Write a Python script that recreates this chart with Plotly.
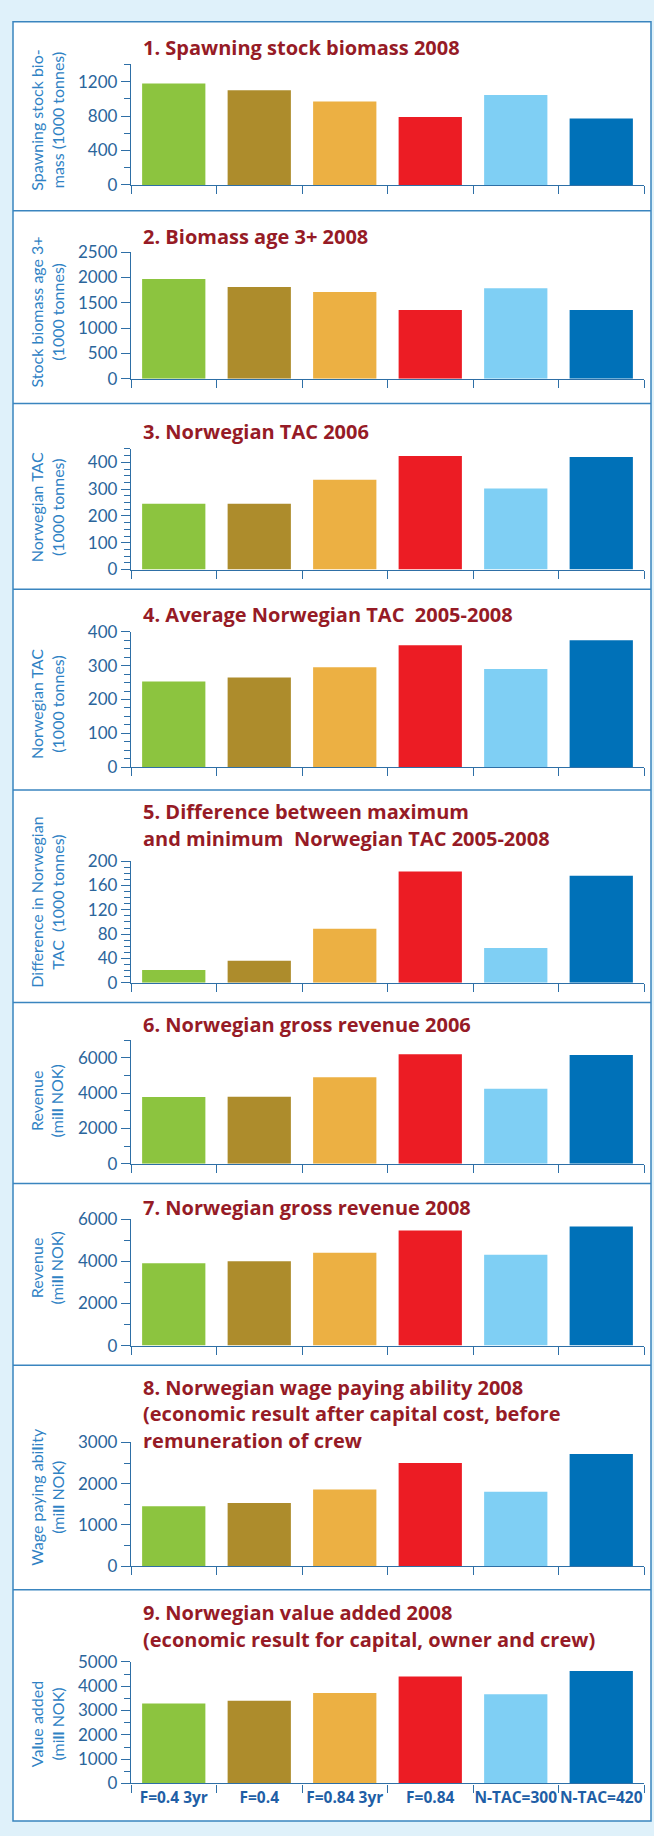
import plotly.graph_objects as go

W, H = 654, 1836

# ---------------- data ----------------
categories = ["F=0.4 3yr", "F=0.4", "F=0.84 3yr", "F=0.84", "N-TAC=300", "N-TAC=420"]
bar_colors = ["#8cc43f", "#ad8c2c", "#ecb043", "#ec1c24", "#7fcff4", "#0071b8"]

ssb_2008 = [1177, 1100, 968, 790, 1044, 771]
biomass3_2008 = [1970, 1815, 1712, 1357, 1789, 1357]
tac_2006 = [245, 245, 335, 424, 302, 420]
avg_tac_0508 = [253, 265, 295, 360, 290, 375]
diff_tac_0508 = [21, 36, 89, 183, 57, 176]
revenue_2006 = [3780, 3790, 4900, 6200, 4250, 6150]
revenue_2008 = [3900, 4000, 4400, 5450, 4300, 5650]
wage_ability_2008 = [1450, 1530, 1860, 2500, 1800, 2720]
value_added_2008 = [3290, 3400, 3720, 4400, 3670, 4630]

titles = [
    "1. Spawning stock biomass 2008",
    "2. Biomass age 3+ 2008",
    "3. Norwegian TAC 2006",
    "4. Average Norwegian TAC  2005-2008",
    "5. Difference between maximum<br>and minimum  Norwegian TAC 2005-2008",
    "6. Norwegian gross revenue 2006",
    "7. Norwegian gross revenue 2008",
    "8. Norwegian wage paying ability 2008<br>(economic result after capital cost, before<br>remuneration of crew",
    "9. Norwegian value added 2008<br>(economic result for capital, owner and crew)",
]
y_titles = [
    "Spawning stock bio-<br>mass (1000 tonnes)",
    "Stock biomass age 3+<br>(1000 tonnes)",
    "Norwegian TAC<br>(1000 tonnes)",
    "Norwegian TAC<br>(1000 tonnes)",
    "Difference in Norwegian<br>TAC  (1000 tonnes)",
    "Revenue<br>(mi<b>ll</b> NOK)",
    "Revenue<br>(mi<b>ll</b> NOK)",
    "Wage paying abi<b>l</b>ity<br>(mi<b>ll</b> NOK)",
    "Va<b>l</b>ue added<br>(mi<b>ll</b> NOK)",
]
series = [ssb_2008, biomass3_2008, tac_2006, avg_tac_0508, diff_tac_0508,
          revenue_2006, revenue_2008, wage_ability_2008, value_added_2008]
y_max = [1400, 2500, 450, 400, 200, 7000, 6000, 3000, 5000]
y_dtick = [400, 500, 100, 100, 40, 2000, 2000, 1000, 1000]
y_minor = [200, None, 25, 25, 10, 1000, 1000, 500, 500]

# ---------------- layout geometry (pixels) ----------------
zero_px = [176, 372, 565, 765, 983, 1166, 1350, 1573, 1793]
top_px = [54, 244, 443, 628, 860, 1041, 1222, 1448, 1670]
title_lines_px = [[37], [228], [425], [610], [810, 837], [1025], [1210],
                  [1392, 1419, 1446], [1620, 1647]]
ytitle_px = [111, 305, 502, 701, 902, 1103, 1272, 1503, 1733]
borders_px = [202, 397, 585, 788, 1003, 1186, 1370, 1597]
X0, X1 = 131, 644
LEFT, RIGHT, TOP, BOTTOM = 13, 651, 11, 1831

def px(x):
    return x / W

def py(y):
    return 1 - y / H

TITLE_COLOR = "#961b26"
AXIS_COLOR = "#2e6fa6"
TICK_COLOR = "#2b659b"
YTITLE_COLOR = "#2f82c4"
BORDER_COLOR = "#3a85bf"
FONT = "Lato"
TFONT = "Open Sans"

fig = go.Figure()
layout = dict(
    width=W, height=H,
    margin=dict(l=0, r=0, t=0, b=0),
    paper_bgcolor="#dff1fa",
    plot_bgcolor="white",
    showlegend=False,
    bargap=0.26,
    font=dict(family=FONT, color=TICK_COLOR),
)

shapes = [dict(type="rect", xref="paper", yref="paper",
               x0=px(LEFT), x1=px(RIGHT), y0=py(BOTTOM), y1=py(TOP),
               fillcolor="white", line=dict(color=BORDER_COLOR, width=1.5), layer="below")]
for b in borders_px:
    shapes.append(dict(type="line", xref="paper", yref="paper",
                       x0=px(LEFT), x1=px(RIGHT), y0=py(b), y1=py(b),
                       line=dict(color=BORDER_COLOR, width=1.5), layer="below"))

annotations = []
for i in range(9):
    n = "" if i == 0 else str(i + 1)
    fig.add_trace(go.Bar(
        x=categories, y=series[i], marker=dict(color=bar_colors, line=dict(width=0)),
        xaxis="x" + n, yaxis="y" + n, hoverinfo="x+y",
    ))
    last = (i == 8)
    layout["xaxis" + n] = dict(
        domain=[px(X0), px(X1)], anchor="y" + n, type="category",
        range=[-0.5, 5.5], showline=True, linecolor=AXIS_COLOR, linewidth=1.3,
        ticks="outside", tickson="boundaries", ticklen=8, tickcolor=AXIS_COLOR, tickwidth=1.3,
        showgrid=False, zeroline=False, showticklabels=last, tickangle=0,
        tickfont=dict(family=TFONT, size=15.5, color="#1f5fa6", weight="bold"),
        fixedrange=True,
    )
    ycfg = dict(
        domain=[py(zero_px[i]), py(top_px[i])], anchor="x" + n,
        range=[0, y_max[i]], dtick=y_dtick[i], tick0=0,
        showline=True, linecolor=AXIS_COLOR, linewidth=1.3,
        ticks="outside", ticklen=9, tickcolor=AXIS_COLOR, tickwidth=1.3,
        showgrid=False, zeroline=False,
        tickfont=dict(family=FONT, size=17, color=TICK_COLOR),
        fixedrange=True,
    )
    if y_minor[i]:
        ycfg["minor"] = dict(dtick=y_minor[i], tick0=0, ticks="outside", ticklen=6,
                             tickcolor=AXIS_COLOR, tickwidth=1.1, showgrid=False)
    layout["yaxis" + n] = ycfg

    for line_text, ly in zip(titles[i].split("<br>"), title_lines_px[i]):
        annotations.append(dict(
            xref="paper", yref="paper", x=px(141), y=py(ly),
            xanchor="left", yanchor="middle", align="left", showarrow=False,
            text="<b>" + line_text + "</b>",
            font=dict(family=TFONT, size=20, color=TITLE_COLOR),
        ))
    annotations.append(dict(
        xref="paper", yref="paper", x=px(47), y=py(ytitle_px[i]),
        xanchor="center", yanchor="middle", align="center", showarrow=False,
        textangle=-90, text=y_titles[i],
        font=dict(family=FONT, size=16, color=YTITLE_COLOR),
    ))

layout["shapes"] = shapes
layout["annotations"] = annotations
fig.update_layout(**layout)
fig.write_html("out.html")
